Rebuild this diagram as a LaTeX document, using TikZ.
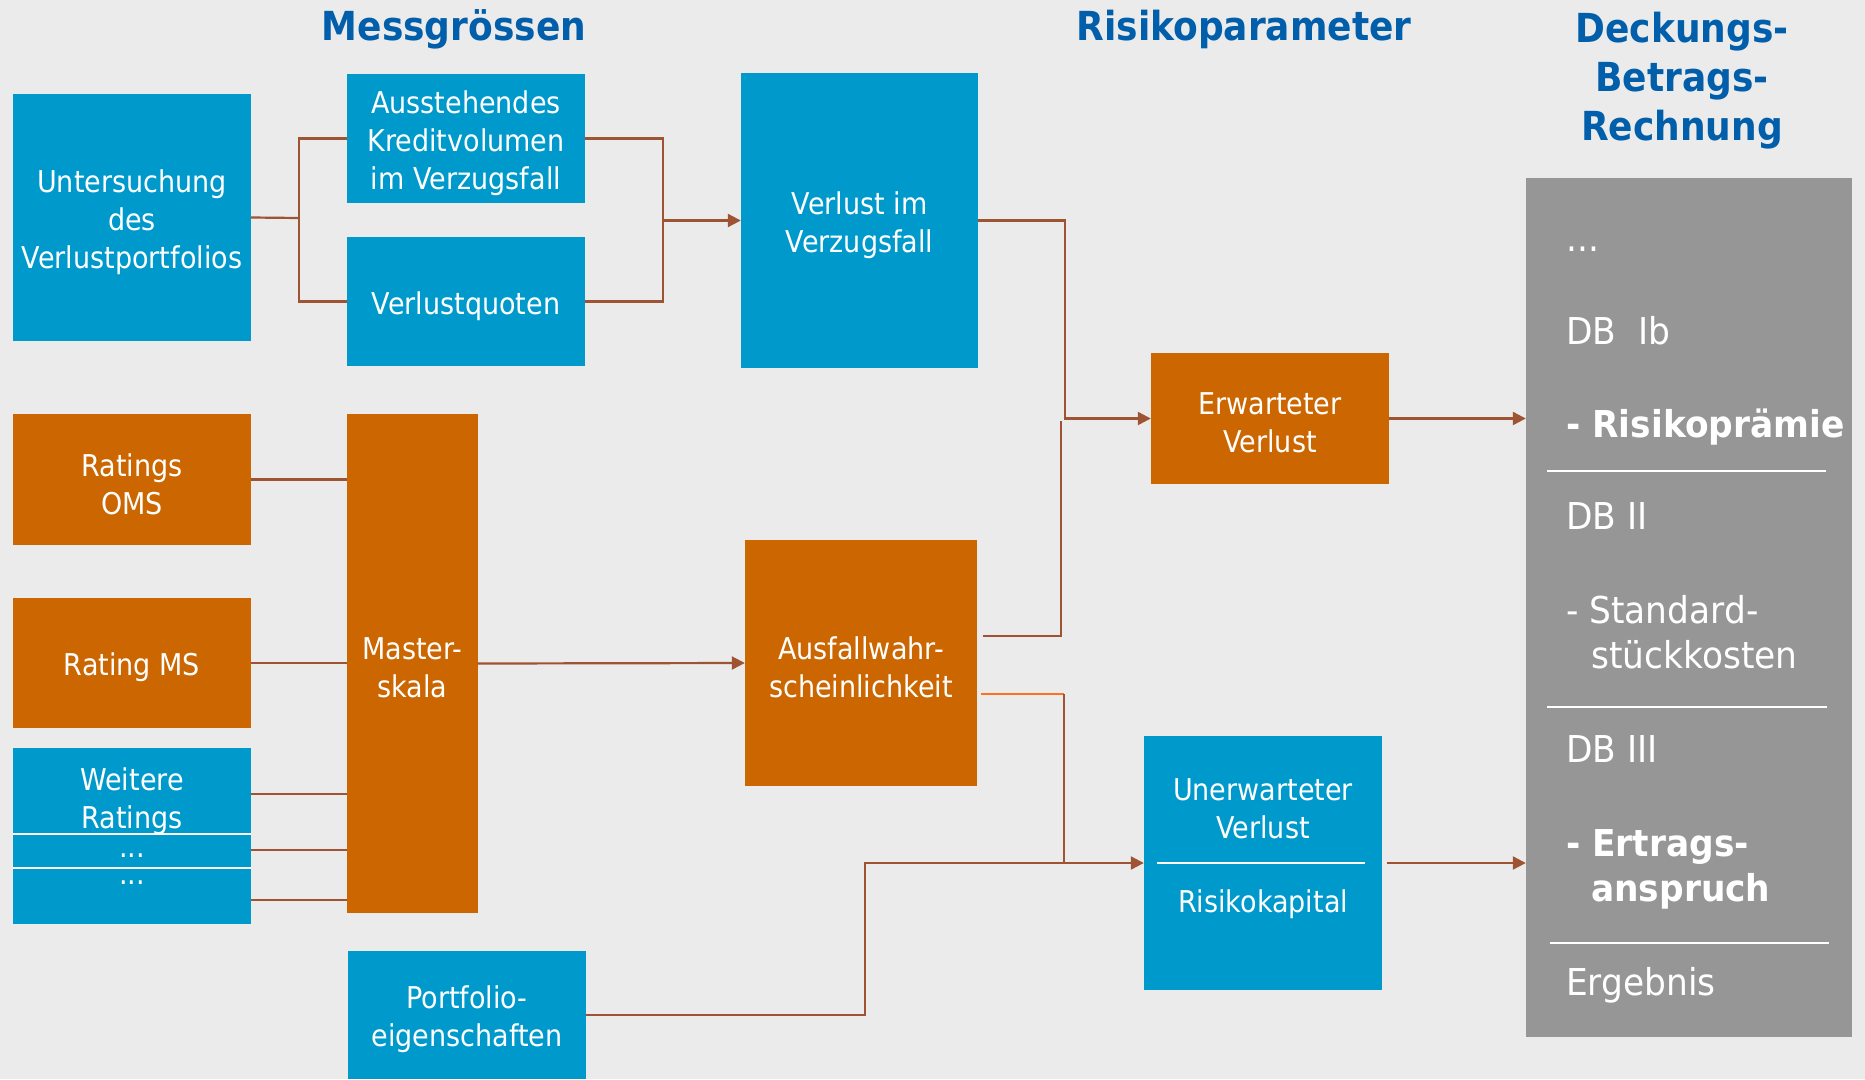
\documentclass[tikz,border=0pt]{standalone}
\usepackage{fontspec}
\setmainfont{DejaVu Sans}
\newfontfamily\bxf[FakeStretch=0.9]{DejaVu Sans}
\newfontfamily\grf[FakeStretch=0.93]{DejaVu Sans}
\usetikzlibrary{arrows.meta}
\definecolor{bgc}{RGB}{235,235,235}
\definecolor{blu}{RGB}{0,153,204}
\definecolor{org}{RGB}{204,102,0}
\definecolor{gry}{RGB}{150,150,150}
\definecolor{ttl}{RGB}{0,94,170}
\definecolor{brn}{RGB}{158,84,50}
\definecolor{orgl}{RGB}{255,112,32}
% #1 name, #2 style, #3 centre, #4 width, #5 height, #6 text
\newcommand\mybx[6]{%
  \node[#2, minimum width=#4, minimum height=#5] (#1) at (#3) {};
  \node[box, yshift=-4.5pt] (#1-t) at (#1.center) {#6};}
\begin{document}
\begin{tikzpicture}[x=1pt,y=-1pt,
 box/.style={rectangle, inner sep=0pt, text=white, align=center, font=\bxf\fontsize{30}{38}\selectfont},
 bbox/.style={rectangle, inner sep=0pt, fill=blu},
 obox/.style={rectangle, inner sep=0pt, fill=org},
 conn/.style={draw=brn, line width=2.2pt},
 arr/.style={conn, -{Triangle[length=13pt,width=13pt]}},
 ttlf/.style={inner sep=0pt, font=\bxf\bfseries\fontsize{40}{49}\selectfont, text=ttl, align=center},
 grt/.style={anchor=base west, inner sep=0pt, text=white, font=\grf\fontsize{37}{45}\selectfont},
 wline/.style={draw=white, line width=2.5pt}
]
\fill[bgc] (0,0) rectangle (1865,1079);
\useasboundingbox (0,0) rectangle (1865,1079);

% titles
\node[ttlf] (t1) at (454,29.5) {Messgrössen};
\node[ttlf] (t2) at (1244,29.5) {Risikoparameter};
\node[ttlf] (t3) at (1682,81) {Deckungs-\\Betrags-\\Rechnung};

% boxes
\mybx{unt}{bbox}{132,217.5}{238pt}{247pt}{Untersuchung\\des\\Verlustportfolios}
\mybx{aus}{bbox}{466,138.5}{238pt}{129pt}{Ausstehendes\\Kreditvolumen\\im Verzugsfall}
\mybx{quot}{bbox}{466,301.5}{238pt}{129pt}{Verlustquoten}
\mybx{vz}{bbox}{859.5,220.5}{237pt}{295pt}{Verlust im\\Verzugsfall}
\mybx{oms}{obox}{132,479.5}{238pt}{131pt}{Ratings\\OMS}
\mybx{ms}{obox}{132,663}{238pt}{130pt}{Rating MS}
\node[bbox, minimum width=238pt, minimum height=176pt] (weit) at (132,836) {};
\node[box] (weitt) at (132,801) {Weitere\\Ratings};
\node[box, anchor=base] (wd1) at (132,857) {...};
\node[box, anchor=base] (wd2) at (132,884) {...};
\draw[wline] (weit.west |- 0,834) -- (weit.east |- 0,834);
\draw[wline] (weit.west |- 0,868) -- (weit.east |- 0,868);
\mybx{mast}{obox}{412.5,663.5}{131pt}{499pt}{Master-\\skala}
\mybx{ausf}{obox}{861,663}{232pt}{246pt}{Ausfallwahr-\\scheinlichkeit}
\mybx{port}{bbox}{467,1015}{238pt}{128pt}{Portfolio-\\eigenschaften}
\mybx{erw}{obox}{1270,418.5}{238pt}{131pt}{Erwarteter\\Verlust}
\node[bbox, minimum width=238pt, minimum height=254pt] (unerw) at (1263,863) {};
\node[box] (unt1) at (1263,808.5) {Unerwarteter\\Verlust};
\node[box] (unt2) at (1263,904) {Risikokapital};
\draw[wline] (1157,863) -- (1365,863);

% gray column
\node[rectangle, fill=gry, inner sep=0pt, minimum width=326pt, minimum height=859pt] (gray) at (1689,607.5) {};
\node[grt] (g1) at (1566,251) {...};
\node[grt] (g2) at (1566,344) {DB\ \ Ib};
\node[grt, font=\grf\bfseries\fontsize{37}{45}\selectfont] (g3) at (1566,437) {- Risikoprämie};
\draw[wline] (1547,471) -- (1826,471);
\node[grt] (g4) at (1566,529) {DB II};
\node[grt] (g5) at (1566,623) {- Standard-};
\node[grt] (g6) at (1591,668) {stückkosten};
\draw[wline] (1547,707) -- (1827,707);
\node[grt] (g7) at (1566,762) {DB III};
\node[grt, font=\grf\bfseries\fontsize{37}{45}\selectfont] (g8) at (1566,856) {- Ertrags-};
\node[grt, font=\grf\bfseries\fontsize{37}{45}\selectfont] (g9) at (1591,901) {anspruch};
\draw[wline] (1550,943) -- (1829,943);
\node[grt] (g10) at (1566,995) {Ergebnis};

% connectors
\coordinate (lb) at (299,218);
\draw[conn] (unt.east) -- (lb);
\draw[conn] (aus.west) -| (lb);
\draw[conn] (quot.west) -| (lb);
\coordinate (rb) at (663,220.5);
\draw[conn] (aus.east) -| (rb);
\draw[conn] (quot.east) -| (rb);
\draw[arr] (rb) -- (vz.west);

\coordinate (j1) at (1065,418.5);
\draw[arr] (vz.east) -| (j1) -- (erw.west);
\coordinate (a1) at (983,636);
\coordinate (a1t) at (1061,421);
\draw[conn] (a1) -| (a1t);
\coordinate (a2) at (981,694);
\coordinate (a2m) at (1064,694);
\coordinate (j2) at (1064,863);
\draw[draw=orgl, line width=2.2pt] (a2) -- (a2m);
\draw[conn] (a2m) -- (j2);
\coordinate (p1) at (865,863);
\draw[arr] (port.east) -| (p1) -- (unerw.west);

\draw[arr] (mast.east) -- (ausf.west);
\draw[conn] (oms.east) -- (oms.east -| mast.west);
\draw[conn] (ms.east) -- (ms.east -| mast.west);
\draw[conn] (weit.east |- 0,794) -- (mast.west |- 0,794);
\draw[conn] (weit.east |- 0,850) -- (mast.west |- 0,850);
\draw[conn] (weit.east |- 0,900) -- (mast.west |- 0,900);

\draw[arr] (erw.east) -- (erw.east -| gray.west);
\draw[arr] ([xshift=5pt]unerw.east) -- (unerw.east -| gray.west);
\end{tikzpicture}
\end{document}
